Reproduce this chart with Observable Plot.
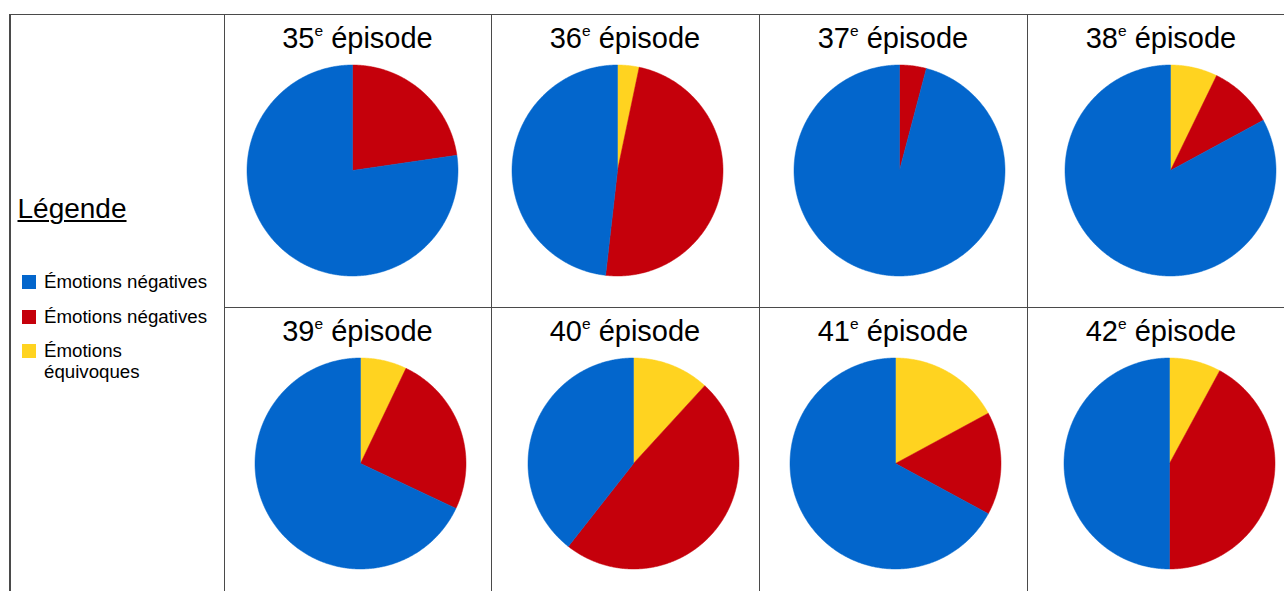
<!DOCTYPE html>
<html>
<head>
<meta charset="utf-8">
<script src="https://cdn.jsdelivr.net/npm/d3@7"></script>
<script src="https://cdn.jsdelivr.net/npm/@observablehq/plot@0.6"></script>
<style>
html,body{margin:0;padding:0;background:#fff;}
#root{position:relative;width:1284px;height:591px;overflow:hidden;font-family:"Liberation Sans",Arial,sans-serif;color:#000;}
.ln{position:absolute;background:#4a4a4a;}
.title{position:absolute;text-align:center;font-size:29px;line-height:29px;white-space:nowrap;}
.title .sup{font-size:15.5px;vertical-align:12px;line-height:0;}
.pie{position:absolute;}
.legtitle{position:absolute;left:17.5px;top:195.3px;font-size:28px;line-height:28px;text-decoration:underline;text-underline-offset:2px;text-decoration-thickness:1.5px;white-space:nowrap;}
.sw{position:absolute;left:22px;width:14px;height:14px;}
.lab{position:absolute;left:44px;width:160px;font-size:18.7px;line-height:21.5px;}
</style>
</head>
<body>
<div id="root"></div>
<script>
// ---- data (percent of emotions per episode) ----
const episodes   = ["35", "36", "37", "38", "39", "40", "41", "42"];
const equivoques = [0,    3.3,  0,    7.2,  7.1,  11.8, 17.1, 7.9];   // yellow
const negatives  = [22.7, 48.5, 4.1,  9.9,  24.9, 48.8, 15.8, 42.1];  // red
const positives  = [77.3, 48.2, 95.9, 82.9, 68.0, 39.4, 67.1, 50.0];  // blue
const seriesKeys = ["equivoques", "negatives", "positives"];
const seriesColors = ["#ffd320", "#c5000b", "#0366cc"];
// legend (as written in the original)
const legendTitle = "Légende";
const legendKeys   = ["positives", "negatives", "equivoques"];
const legendLabels = ["Émotions négatives", "Émotions négatives", "Émotions équivoques"];

// ---- layout ----
const colX = [224, 491, 759, 1027];
const colW = [267, 268, 268, 268];
const rowY = [14, 307];
const pieDx = [-5.7, -8, 5.5, 9, 2.5, 7.7, 1.8, 7.7];
const pieCy = 156.3;
const pieSize = 214;

const root = document.getElementById("root");
function line(l, t, w, h) {
  const d = document.createElement("div");
  d.className = "ln";
  Object.assign(d.style, {left: l + "px", top: t + "px", width: w + "px", height: h + "px"});
  root.appendChild(d);
}
// grid
line(9, 13.5, 1275, 1.5);
line(9, 13.5, 1.5, 600);
line(223.5, 13.5, 1.5, 600);
line(490.5, 13.5, 1, 600);
line(758.5, 13.5, 1, 600);
line(1026.5, 13.5, 1, 600);
line(224, 306.5, 1060, 1);

// legend
const lt = document.createElement("div");
lt.className = "legtitle";
lt.textContent = legendTitle;
root.appendChild(lt);
const color = d3.scaleOrdinal(seriesKeys, seriesColors);
legendLabels.forEach((lab, i) => {
  const top = 271.3 + i * 34.3;
  const sw = document.createElement("div");
  sw.className = "sw";
  sw.style.top = (top + 4) + "px";
  sw.style.background = color(legendKeys[i]);
  root.appendChild(sw);
  const t = document.createElement("div");
  t.className = "lab";
  t.style.top = top + "px";
  t.style.width = i === 2 ? "120px" : "178px";
  t.textContent = lab;
  root.appendChild(t);
});

// pies
episodes.forEach((ep, i) => {
  const r = Math.floor(i / 4), c = i % 4;
  const cellL = colX[c], cellT = rowY[r], cellW = colW[c];
  // title
  const tt = document.createElement("div");
  tt.className = "title";
  Object.assign(tt.style, {left: cellL + "px", width: cellW + "px", top: (cellT + 9.75) + "px"});
  tt.innerHTML = ep + '<span class="sup">e</span> épisode';
  root.appendChild(tt);

  const vals = [
    {k: "equivoques", v: equivoques[i]},
    {k: "negatives", v: negatives[i]},
    {k: "positives", v: positives[i]}
  ];
  const arcs = d3.pie().sort(null).value(d => d.v)(vals);
  const pts = [];
  arcs.forEach(a => {
    const span = a.endAngle - a.startAngle;
    if (span <= 0) return;
    const n = Math.max(2, Math.ceil(span / (Math.PI / 360)));
    pts.push({k: a.data.k, x: 0, y: 0});
    for (let s = 0; s <= n; s++) {
      const t = a.startAngle + span * s / n;
      pts.push({k: a.data.k, x: Math.sin(t), y: Math.cos(t)});
    }
    pts.push({k: a.data.k, x: 0, y: 0});
  });
  const svg = Plot.plot({
    width: pieSize, height: pieSize, margin: 1.5,
    x: {domain: [-1, 1], axis: null},
    y: {domain: [-1, 1], axis: null},
    color: {domain: seriesKeys, range: seriesColors},
    style: {background: "transparent", overflow: "visible"},
    marks: [
      Plot.line(pts, {x: "x", y: "y", z: "k", fill: "k", stroke: "k", strokeWidth: 0.5})
    ]
  });
  const holder = document.createElement("div");
  holder.className = "pie";
  const cx = cellL + cellW / 2 + pieDx[i];
  const cy = cellT + pieCy;
  Object.assign(holder.style, {left: (cx - pieSize / 2) + "px", top: (cy - pieSize / 2) + "px"});
  holder.appendChild(svg);
  root.appendChild(holder);
});
</script>
</body>
</html>
